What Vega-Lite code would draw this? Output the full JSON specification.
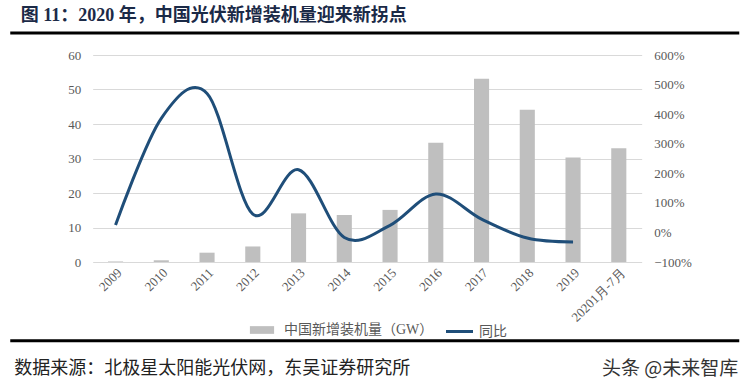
{
  "$schema": "https://vega.github.io/schema/vega-lite/v6.json",
  "background": "white",
  "padding": {"left": 8, "right": 7, "top": 6, "bottom": 0},
  "config": {
    "view": {"stroke": null},
    "font": "Liberation Serif, Noto Sans CJK SC",
    "axis": {"labelFont": "Liberation Serif", "labelColor": "#595959", "labelFontSize": 13, "domain": false, "ticks": false, "title": null}
  },
  "spacing": 14,
  "center": true,
  "vconcat": [
    {
      "width": 729,
      "height": 1,
      "title": {"text": "图 11：2020 年，中国光伏新增装机量迎来新拐点", "anchor": "start", "fontSize": 18, "fontWeight": "bold", "color": "#1b2a47", "font": "Liberation Serif, Noto Sans CJK SC", "offset": 7, "dx": 12},
      "data": {"values": [{}]},
      "mark": {"type": "rule", "stroke": "#000000", "strokeWidth": 3},
      "encoding": {"y": {"datum": 0, "scale": {"domain": [0, 1]}, "axis": null}}
    },
    {
      "spacing": 0,
      "hconcat": [
        {
          "width": 8,
          "height": 207,
          "data": {"values": []},
          "mark": {"type": "rule"},
          "encoding": {}
        },
        {
          "width": 549,
          "height": 207,
          "data": {"values": [
            {"year": "2009", "gw": 0.16, "yoy": 0.25},
            {"year": "2010", "gw": 0.5, "yoy": 3.86},
            {"year": "2011", "gw": 2.7, "yoy": 4.70},
            {"year": "2012", "gw": 4.5, "yoy": 0.62},
            {"year": "2013", "gw": 14.1, "yoy": 2.12},
            {"year": "2014", "gw": 13.6, "yoy": -0.17},
            {"year": "2015", "gw": 15.1, "yoy": 0.24},
            {"year": "2016", "gw": 34.6, "yoy": 1.30},
            {"year": "2017", "gw": 53.1, "yoy": 0.45},
            {"year": "2018", "gw": 44.1, "yoy": -0.19},
            {"year": "2019", "gw": 30.3, "yoy": -0.32},
            {"year": "20201月-7月", "gw": 33.0, "yoy": null}
          ]},
          "layer": [
            {
              "mark": {"type": "bar"},
              "encoding": {
                "x": {"field": "year", "type": "nominal", "sort": null, "scale": {"paddingInner": 0.67, "paddingOuter": 0.335}, "axis": {"labelAngle": -45, "labelPadding": 4, "grid": false}},
                "y": {"field": "gw", "type": "quantitative", "scale": {"domain": [0, 60]}, "axis": {"orient": "left", "values": [0, 10, 20, 30, 40, 50, 60], "grid": true, "gridColor": "#d9d9d9", "gridWidth": 1, "labelPadding": 12}},
                "color": {"datum": "中国新增装机量（GW）", "scale": {"range": ["#bfbfbf"]}, "legend": {"orient": "none", "legendX": 245, "legendY": 291, "title": null, "symbolType": "M-2.2,-0.7H2.2V0.7H-2.2Z", "symbolSize": 121, "symbolStrokeWidth": 0, "labelFontSize": 14, "labelColor": "#595959", "labelFont": "Liberation Serif, Noto Sans CJK SC", "labelOffset": 15}}
              }
            },
            {
              "mark": {"type": "line", "interpolate": "cardinal", "strokeWidth": 3},
              "encoding": {
                "x": {"field": "year", "type": "nominal", "sort": null},
                "y": {"field": "yoy", "type": "quantitative", "scale": {"domain": [-1, 6]}, "axis": {"orient": "right", "format": ".0%", "values": [-1, 0, 1, 2, 3, 4, 5, 6], "grid": false, "labelPadding": 12}},
                "stroke": {"datum": "同比", "scale": {"range": ["#1f4e79"]}, "legend": {"orient": "none", "legendX": 441, "legendY": 291, "title": null, "symbolType": "M-2,0H2", "symbolSize": 182, "symbolStrokeWidth": 3, "labelFontSize": 14, "labelColor": "#595959", "labelFont": "Liberation Serif, Noto Sans CJK SC", "labelOffset": 11}}
              }
            }
          ],
          "resolve": {"scale": {"y": "independent"}}
        }
      ]
    },
    {
      "width": 729,
      "height": 30,
      "layer": [
        {
          "data": {"values": [{}]},
          "mark": {"type": "rule", "stroke": "#000000", "strokeWidth": 3},
          "encoding": {"y": {"datum": 1, "scale": {"domain": [0, 0.9]}, "axis": null}}
        },
        {
          "data": {"values": [{"label": "数据来源：北极星太阳能光伏网，东吴证券研究所"}]},
          "mark": {"type": "text", "align": "left", "baseline": "middle", "fontSize": 18, "font": "Noto Sans CJK SC", "color": "#222222", "dx": 4},
          "encoding": {
            "text": {"field": "label"},
            "x": {"datum": 0, "scale": {"domain": [0, 1]}, "axis": null},
            "y": {"datum": 0.153, "scale": {"domain": [0, 0.9]}, "axis": null}
          }
        },
        {
          "data": {"values": [{"label": "头条 @未来智库"}]},
          "mark": {"type": "text", "align": "right", "baseline": "middle", "fontSize": 19, "font": "Noto Sans CJK SC", "color": "#333333", "dx": -1},
          "encoding": {
            "text": {"field": "label"},
            "x": {"datum": 1, "scale": {"domain": [0, 1]}, "axis": null},
            "y": {"datum": 0.153, "scale": {"domain": [0, 0.9]}, "axis": null}
          }
        }
      ]
    }
  ]
}
